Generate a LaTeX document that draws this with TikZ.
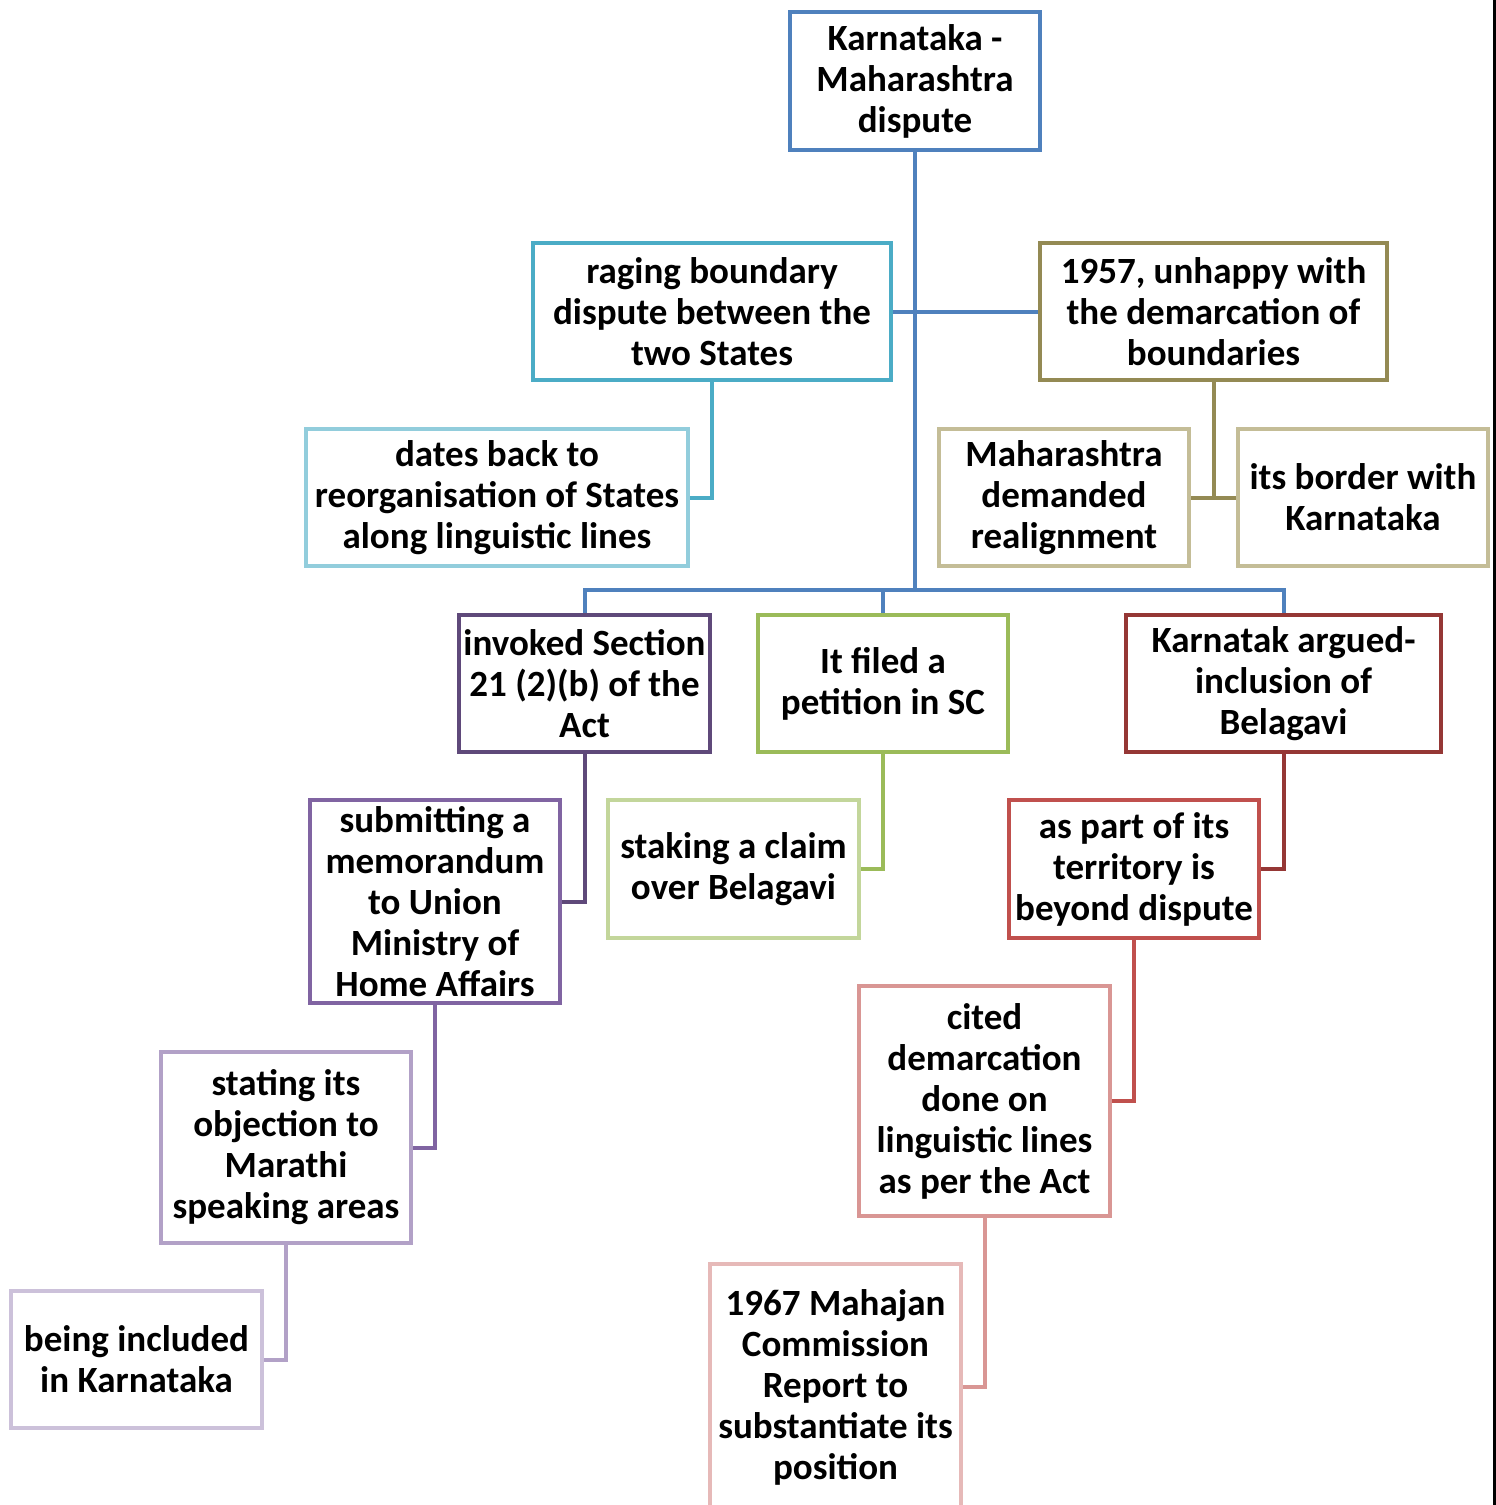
\documentclass[tikz,border=0pt]{standalone}
\usepackage{fontspec}
\setmainfont{Carlito}
\definecolor{cBlue}{HTML}{4F81BD}
\definecolor{cAqua}{HTML}{4BACC6}
\definecolor{cOlive}{HTML}{948A54}
\definecolor{cLAqua}{HTML}{92CDDC}
\definecolor{cTan}{HTML}{C4BD97}
\definecolor{cDPurple}{HTML}{5F497A}
\definecolor{cGreen}{HTML}{9BBB59}
\definecolor{cDRed}{HTML}{953735}
\definecolor{cPurple}{HTML}{8064A2}
\definecolor{cLGreen}{HTML}{C3D69B}
\definecolor{cRed}{HTML}{C0504D}
\definecolor{cLPurple}{HTML}{B2A1C7}
\definecolor{cPink}{HTML}{D99694}
\definecolor{cLLPurple}{HTML}{CCC1DA}
\definecolor{cLPink}{HTML}{E6B9B8}
\tikzset{
  box/.style={draw, fill=white, line width=4pt, rectangle, inner sep=0pt,
    align=center, font=\fontsize{37}{41}\selectfont\bfseries, text=black},
  link/.style={line width=4pt}
}
\begin{document}
\begin{tikzpicture}[x=1pt,y=-1pt]
\useasboundingbox (0,0) rectangle (1496,1505);
% nodes
\node[box, draw=cBlue, minimum width=250pt, minimum height=138pt] (top) at (915,81) {Karnataka -\\Maharashtra\\dispute};
\node[box, draw=cAqua, minimum width=358pt, minimum height=137pt] (raging) at (712,311.5) {raging boundary\\dispute between the\\two States};
\node[box, draw=cOlive, minimum width=347pt, minimum height=137pt] (y57) at (1213.5,311.5) {1957, unhappy with\\the demarcation of\\boundaries};
\node[box, draw=cLAqua, minimum width=382pt, minimum height=137pt] (dates) at (497,497.5) {dates back to\\reorganisation of States\\along linguistic lines};
\node[box, draw=cTan, minimum width=250pt, minimum height=137pt] (maha) at (1064,497.5) {Maharashtra\\demanded\\realignment};
\node[box, draw=cTan, minimum width=250pt, minimum height=137pt] (border) at (1363,497.5) {its border with\\Karnataka};
\node[box, draw=cDPurple, minimum width=251pt, minimum height=137pt] (invoked) at (584.5,683.5) {invoked Section\\21 (2)(b) of the\\Act};
\node[box, draw=cGreen, minimum width=250pt, minimum height=137pt] (filed) at (883,683.5) {It filed a\\petition in SC};
\node[box, draw=cDRed, minimum width=315pt, minimum height=137pt] (karn) at (1283.5,683.5) {Karnatak argued-\\inclusion of\\Belagavi};
\node[box, draw=cPurple, minimum width=250pt, minimum height=203pt] (submit) at (435,901.5) {submitting a\\memorandum\\to Union\\Ministry of\\Home Affairs};
\node[box, draw=cLGreen, minimum width=251pt, minimum height=138pt] (staking) at (733.5,869) {staking a claim\\over Belagavi};
\node[box, draw=cRed, minimum width=250pt, minimum height=138pt] (aspart) at (1134,869) {as part of its\\territory is\\beyond dispute};
\node[box, draw=cLPurple, minimum width=250pt, minimum height=191pt] (stating) at (286,1147.5) {stating its\\objection to\\Marathi\\speaking areas};
\node[box, draw=cPink, minimum width=251pt, minimum height=230pt] (cited) at (984.5,1101) {cited\\demarcation\\done on\\linguistic lines\\as per the Act};
\node[box, draw=cLLPurple, minimum width=251pt, minimum height=137pt] (being) at (136.5,1359.5) {being included\\in Karnataka};
\node[box, draw=cLPink, minimum width=251pt, minimum height=246pt] (mahajan) at (835.5,1387) {1967 Mahajan\\Commission\\Report to\\substantiate its\\position};
% connectors
\coordinate (bus) at (915,590);
\draw[link, cBlue] (top.south) -- (bus);
\draw[link, cBlue] (raging.east) -- (y57.west);
\draw[link, cBlue] (invoked.north) |- (bus);
\draw[link, cBlue] (karn.north) |- (bus);
\draw[link, cBlue] (filed.north) -- (filed.north |- bus);
\draw[link, cAqua] (raging.south) |- (dates.east);
\draw[link, cOlive] (y57.south) |- (maha.east);
\draw[link, cOlive] (y57.south) |- (border.west);
\draw[link, cDPurple] (invoked.south) |- (submit.east);
\draw[link, cGreen] (filed.south) |- (staking.east);
\draw[link, cDRed] (karn.south) |- (aspart.east);
\draw[link, cPurple] (submit.south) |- (stating.east);
\draw[link, cRed] (aspart.south) |- (cited.east);
\draw[link, cLPurple] (stating.south) |- (being.east);
\draw[link, cPink] (cited.south) |- (mahajan.east);
% right edge line
\fill[black] (1492.5,0) rectangle (1496,1505);
\end{tikzpicture}
\end{document}
